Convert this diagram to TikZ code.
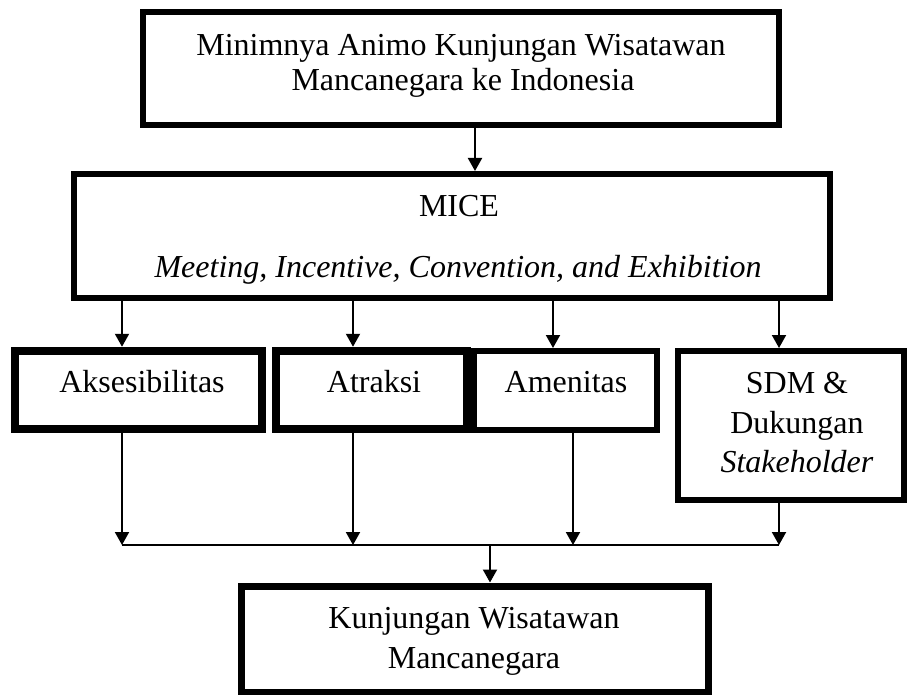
\documentclass[tikz,border=0pt]{standalone}
\usepackage{fontspec}
\setmainfont{Liberation Serif}
\usetikzlibrary{arrows.meta}
\begin{document}
\begin{tikzpicture}[x=1pt,y=-1pt,
  box/.style={draw, rectangle, inner sep=0pt},
  txt/.style={anchor=base, inner sep=0pt, font=\fontsize{32pt}{38pt}\selectfont},
  conn/.style={line width=2pt},
  arr/.style={line width=2pt, -{Triangle[width=14pt,length=13pt]}}]
\useasboundingbox[fill=white] (0,0) rectangle (908,695);

% boxes
\node[box, line width=6pt, minimum width=636pt, minimum height=113pt] (top) at (461,68.5) {};
\node[box, line width=6pt, minimum width=756pt, minimum height=124pt] (mice) at (452,236) {};
\node[box, line width=8.5pt, minimum width=247pt, minimum height=78pt] (aks) at (138.5,390) {};
\node[box, line width=8.5pt, minimum width=191pt, minimum height=78pt] (atr) at (371.5,390) {};
\node[box, line width=6pt, minimum width=183pt, minimum height=79pt] (ame) at (565.5,390.5) {};
\node[box, line width=6pt, minimum width=226pt, minimum height=149pt] (sdm) at (791,425.5) {};
\node[box, line width=7pt, minimum width=467pt, minimum height=106pt] (bot) at (474.5,639) {};

% texts
\node[txt] (topa) at (461,56) {Minimnya Animo Kunjungan Wisatawan};
\node[txt] (topb) at (463,91) {Mancanegara ke Indonesia};
\node[txt] (micea) at (459,217) {MICE};
\node[txt] (miceb) at (458,277) {\textit{Meeting, Incentive, Convention, and Exhibition}};
\node[txt] (akst) at (142,392) {Aksesibilitas};
\node[txt] (atrt) at (374,392) {Atraksi};
\node[txt] (amet) at (566,392) {Amenitas};
\node[txt] (sdma) at (797,393) {SDM \&};
\node[txt] (sdmb) at (797,433) {Dukungan};
\node[txt] (sdmc) at (797,472) {\textit{Stakeholder}};
\node[txt] (bota) at (474,628) {Kunjungan Wisatawan};
\node[txt] (botb) at (474,668) {Mancanegara};

% bus coordinates
\coordinate (b1) at (122,545);
\coordinate (b2) at (353,545);
\coordinate (b3) at (573,545);
\coordinate (b4) at (779,545);
\coordinate (bj) at (490,545);

% connectors
\draw[arr] (top.south -| 475,0) -- (mice.north -| 475,0);
\draw[arr] (mice.south -| 122,0) -- (aks.north -| 122,0);
\draw[arr] (mice.south -| 353,0) -- (atr.north -| 353,0);
\draw[arr] (mice.south -| 553,0) -- (ame.north -| 553,0);
\draw[arr] (mice.south -| 779,0) -- (sdm.north -| 779,0);

\draw[arr] (aks.south -| b1) -- (b1);
\draw[arr] (atr.south -| b2) -- (b2);
\draw[arr] (ame.south -| b3) -- (b3);
\draw[arr] (sdm.south -| b4) -- (b4);
\draw[conn] (b1) -- (b4);
\draw[arr] (bj) -- (bot.north -| bj);
\end{tikzpicture}
\end{document}
